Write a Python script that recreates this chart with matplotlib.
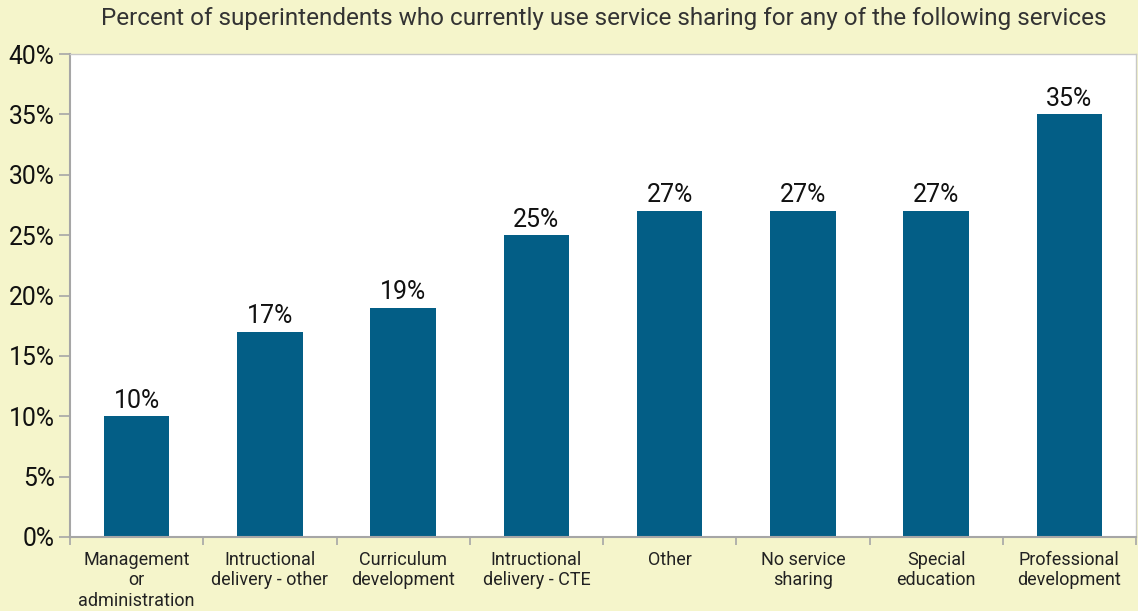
import matplotlib
matplotlib.use("Agg")
import matplotlib.pyplot as plt
from matplotlib.ticker import FuncFormatter, FixedLocator

categories = ["Management\nor\nadministration", "Intructional\ndelivery - other",
              "Curriculum\ndevelopment", "Intructional\ndelivery - CTE", "Other",
              "No service\nsharing", "Special\neducation", "Professional\ndevelopment"]
values = [10, 17, 19, 25, 27, 27, 27, 35]
yticks = [0, 5, 10, 15, 20, 25, 30, 35, 40]
title = "Percent of superintendents who currently use service sharing for any of the following services"

plt.rcParams['font.family'] = ['Roboto', 'DejaVu Sans']
bg = "#f5f5cb"
bar_color = "#035e86"
spine_color = "#a6a6a6"

fig = plt.figure(figsize=(11.38, 6.11), dpi=100, facecolor=bg)
ax = fig.add_axes([70/1138, 1-537/611, (1136-70)/1138, (537-54)/611])
ax.set_facecolor("white")

x = list(range(len(categories)))
bars = ax.bar(x, values, width=0.49, color=bar_color, zorder=2)
for xi, v in zip(x, values):
    ax.text(xi, v + 0.3, f"{v}%", ha="center", va="bottom", fontsize=18, color="#111111")

ax.set_xlim(-0.5, len(categories) - 0.5)
ax.set_ylim(0, 40)
ax.set_yticks(yticks)
ax.yaxis.set_major_formatter(FuncFormatter(lambda v, p: f"{int(v)}%"))
ax.tick_params(axis="y", labelsize=17.8, length=8, width=1.2, color=spine_color, pad=3, labelcolor="#111111")

ax.set_xticks(x)
ax.set_xticklabels(categories, fontsize=13, color="#222222", linespacing=1.17)
ax.tick_params(axis="x", length=0, pad=10)
ax.xaxis.set_minor_locator(FixedLocator([i - 0.5 for i in range(len(categories) + 1)]))
ax.tick_params(axis="x", which="minor", length=6, width=1.2, color=spine_color)

for s in ["left", "bottom"]:
    ax.spines[s].set_color(spine_color)
    ax.spines[s].set_linewidth(1.5)
for s in ["top", "right"]:
    ax.spines[s].set_color("#c8c8c8")
    ax.spines[s].set_linewidth(1.0)

fig.text(604/1138, 1-19/611, title, ha="center", va="center", fontsize=17.5, color="#333333")

fig.savefig("out.png", dpi=100, facecolor=bg)
